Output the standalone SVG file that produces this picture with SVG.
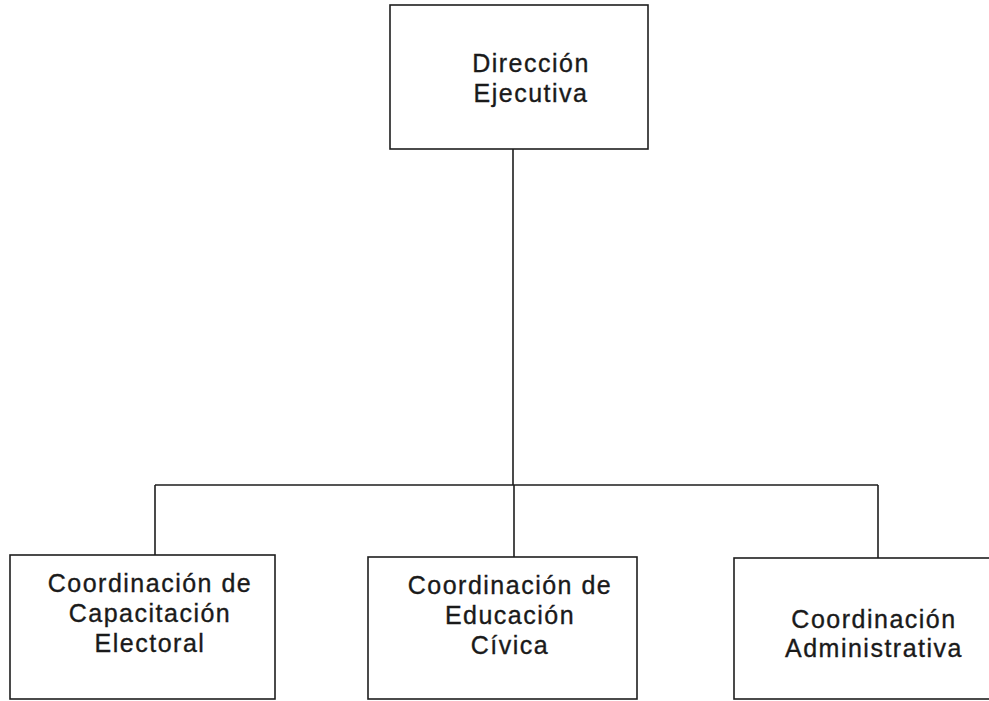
<svg xmlns="http://www.w3.org/2000/svg" width="989" height="701" viewBox="0 0 989 701">
<style>
.box{fill:#fff;stroke:#1e1e1e;stroke-width:1.6}
.con{fill:none;stroke:#1e1e1e;stroke-width:1.6}
.t{font-family:"Liberation Sans",Arial,sans-serif;font-size:25px;fill:#1a1a1a;stroke:#1a1a1a;stroke-width:0.35;text-anchor:middle;letter-spacing:1.5px}
</style>
<rect width="989" height="701" fill="#fff"/>
<g id="connectors">
<path class="con" d="M513 149V485M155 485H878M155 485V555M514 485V557M878 485V558"/>
</g>
<g id="direccion">
<rect class="box" x="390" y="5" width="258" height="144"/>
<text class="t" x="531" y="72">Dirección</text>
<text class="t" x="531" y="102">Ejecutiva</text>
</g>
<g id="capacitacion">
<rect class="box" x="10" y="555" width="265" height="144"/>
<text class="t" x="150" y="592">Coordinación de</text>
<text class="t" x="150" y="622">Capacitación</text>
<text class="t" x="150" y="652">Electoral</text>
</g>
<g id="educacion">
<rect class="box" x="368" y="557" width="269" height="142"/>
<text class="t" x="510" y="594">Coordinación de</text>
<text class="t" x="510" y="624">Educación</text>
<text class="t" x="510" y="654">Cívica</text>
</g>
<g id="administrativa">
<rect class="box" x="734" y="558" width="262" height="141"/>
<text class="t" x="874" y="628">Coordinación</text>
<text class="t" x="874" y="657">Administrativa</text>
</g>
</svg>
